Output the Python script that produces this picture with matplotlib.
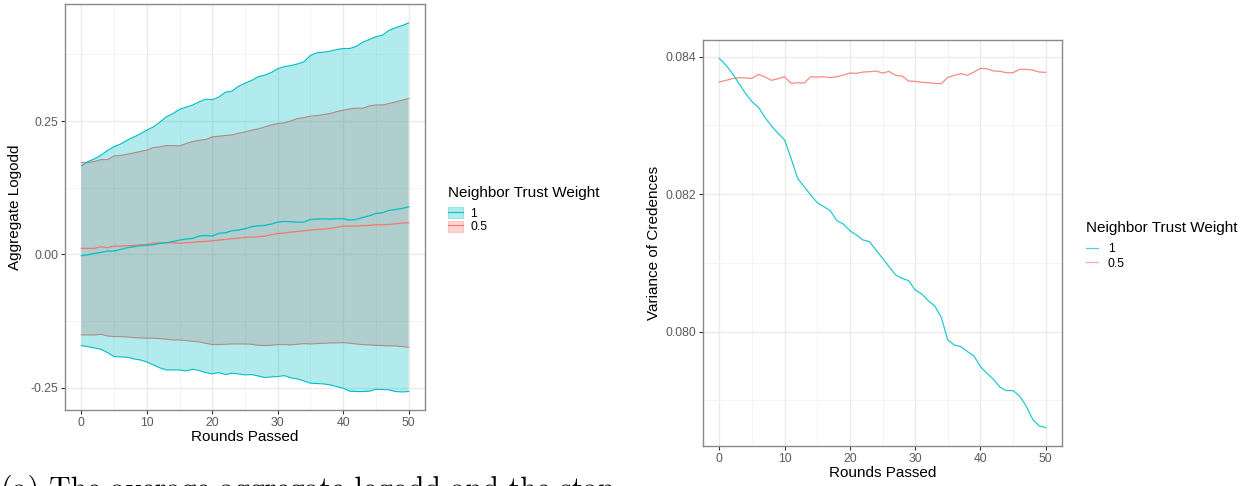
import matplotlib
matplotlib.use("Agg")
import matplotlib.pyplot as plt
from matplotlib.patches import Patch
from matplotlib.lines import Line2D
from matplotlib.legend_handler import HandlerTuple
import numpy as np

plt.rcParams['font.family'] = ['Liberation Sans', 'DejaVu Sans']
plt.rcParams['axes.unicode_minus'] = False

rounds = list(range(51))

# ---- Left panel: aggregate logodd (mean and mean +/- sd) ----
w1_mean = [-0.0025, -0.0007, 0.0018, 0.0037, 0.0062, 0.0062, 0.0093, 0.0124, 0.0143, 0.0162,
           0.0168, 0.0181, 0.0206, 0.0218, 0.0243, 0.0268, 0.0287, 0.0299, 0.0343, 0.0355,
           0.0343, 0.0393, 0.0405, 0.0443, 0.0455, 0.0480, 0.0518, 0.0536, 0.0543, 0.0568,
           0.0605, 0.0617, 0.0611, 0.0605, 0.0605, 0.0655, 0.0661, 0.0667, 0.0661, 0.0667,
           0.0667, 0.0642, 0.0655, 0.0692, 0.0724, 0.0767, 0.0780, 0.0823, 0.0842, 0.0861,
           0.0892]
w1_upper = [0.166, 0.174, 0.179, 0.186, 0.195, 0.202, 0.207, 0.214, 0.220, 0.226,
            0.233, 0.239, 0.248, 0.258, 0.264, 0.272, 0.276, 0.280, 0.286, 0.291,
            0.290, 0.295, 0.304, 0.306, 0.315, 0.321, 0.326, 0.333, 0.336, 0.341,
            0.348, 0.352, 0.354, 0.357, 0.361, 0.373, 0.378, 0.379, 0.381, 0.384,
            0.386, 0.386, 0.390, 0.398, 0.403, 0.408, 0.411, 0.420, 0.425, 0.429,
            0.434]
w1_lower = [-0.1711, -0.1730, -0.1755, -0.1780, -0.1842, -0.1917, -0.1923, -0.1929, -0.1961, -0.1979,
            -0.2017, -0.2073, -0.2129, -0.2167, -0.2167, -0.2167, -0.2185, -0.2154, -0.2179, -0.2216,
            -0.2241, -0.2216, -0.2254, -0.2229, -0.2241, -0.2260, -0.2254, -0.2279, -0.2310, -0.2298,
            -0.2291, -0.2273, -0.2316, -0.2335, -0.2373, -0.2416, -0.2422, -0.2429, -0.2447, -0.2479,
            -0.2510, -0.2566, -0.2572, -0.2572, -0.2566, -0.2529, -0.2535, -0.2541, -0.2572, -0.2579,
            -0.2572]

w05_mean = [0.0112, 0.0112, 0.0112, 0.0143, 0.0124, 0.0156, 0.0156, 0.0162, 0.0168, 0.0181,
            0.0187, 0.0212, 0.0212, 0.0218, 0.0218, 0.0206, 0.0218, 0.0224, 0.0237, 0.0243,
            0.0255, 0.0268, 0.0280, 0.0293, 0.0305, 0.0318, 0.0324, 0.0330, 0.0343, 0.0368,
            0.0393, 0.0399, 0.0418, 0.0430, 0.0443, 0.0455, 0.0468, 0.0474, 0.0486, 0.0505,
            0.0530, 0.0530, 0.0530, 0.0537, 0.0543, 0.0555, 0.0555, 0.0561, 0.0574, 0.0586,
            0.0593]
w05_upper = [0.1722, 0.1722, 0.1741, 0.1778, 0.1778, 0.1847, 0.1853, 0.1878, 0.1903, 0.1928,
             0.1953, 0.2003, 0.2015, 0.2040, 0.2040, 0.2034, 0.2078, 0.2115, 0.2140, 0.2153,
             0.2203, 0.2215, 0.2228, 0.2240, 0.2271, 0.2296, 0.2328, 0.2352, 0.2390, 0.2427,
             0.2452, 0.2465, 0.2502, 0.2546, 0.2565, 0.2590, 0.2602, 0.2621, 0.2640, 0.2677,
             0.2702, 0.2727, 0.2740, 0.2740, 0.2783, 0.2802, 0.2802, 0.2827, 0.2858, 0.2889,
             0.2921]
w05_lower = [-0.1511, -0.1511, -0.1511, -0.1499, -0.1530, -0.1542, -0.1542, -0.1549, -0.1561, -0.1567,
             -0.1573, -0.1573, -0.1580, -0.1592, -0.1605, -0.1605, -0.1617, -0.1630, -0.1642, -0.1667,
             -0.1692, -0.1692, -0.1686, -0.1680, -0.1680, -0.1680, -0.1686, -0.1705, -0.1711, -0.1705,
             -0.1692, -0.1692, -0.1698, -0.1686, -0.1673, -0.1680, -0.1673, -0.1667, -0.1661, -0.1661,
             -0.1655, -0.1667, -0.1680, -0.1692, -0.1698, -0.1705, -0.1711, -0.1717, -0.1717, -0.1730,
             -0.1742]

# ---- Right panel: variance of credences ----
var_w1 = [0.083976, 0.083879, 0.083758, 0.083612, 0.083467, 0.083346, 0.083263, 0.083118, 0.082992, 0.082885,
          0.082788, 0.082521, 0.082230, 0.082109, 0.081988, 0.081877, 0.081818, 0.081760, 0.081615, 0.081566,
          0.081469, 0.081406, 0.081334, 0.081309, 0.081188, 0.081067, 0.080946, 0.080825, 0.080776, 0.080742,
          0.080606, 0.080548, 0.080451, 0.080374, 0.080209, 0.079879, 0.079806, 0.079782, 0.079710, 0.079647,
          0.079491, 0.079394, 0.079307, 0.079191, 0.079142, 0.079142, 0.079064, 0.078919, 0.078725, 0.078628,
          0.078604]
var_w05 = [0.083632, 0.083656, 0.083680, 0.083695, 0.083690, 0.083685, 0.083743, 0.083704, 0.083656, 0.083680,
           0.083709, 0.083612, 0.083622, 0.083617, 0.083709, 0.083704, 0.083709, 0.083695, 0.083709, 0.083733,
           0.083762, 0.083758, 0.083777, 0.083782, 0.083792, 0.083762, 0.083787, 0.083729, 0.083719, 0.083646,
           0.083641, 0.083627, 0.083622, 0.083612, 0.083607, 0.083699, 0.083729, 0.083753, 0.083729, 0.083777,
           0.083830, 0.083825, 0.083792, 0.083787, 0.083767, 0.083767, 0.083816, 0.083816, 0.083806, 0.083777,
           0.083772]

group_labels = ["1", "0.5"]
legend_title = "Neighbor Trust Weight"
left_yticks = [-0.25, 0.0, 0.25]
left_yticklabels = ["-0.25", "0.00", "0.25"]
right_yticks = [0.080, 0.082, 0.084]
right_yticklabels = ["0.080", "0.082", "0.084"]
xticks = [0, 10, 20, 30, 40, 50]
caption = "(a) The average aggregate logodd and the stan"

CYAN = "#00BFC4"
RED = "#F8766D"
GRID = "#EBEBEB"
BORDER = "#8A8A8A"
TICKTXT = "#5A5A5A"

W, H = 1247, 486
fig = plt.figure(figsize=(W / 100, H / 100), dpi=100)


def style_axes(ax, xminor, yminor):
    ax.set_facecolor("white")
    for s in ax.spines.values():
        s.set_color(BORDER)
        s.set_linewidth(1.0)
    ax.set_xticks(xticks)
    ax.set_xticklabels([str(t) for t in xticks])
    ax.set_xticks(xminor, minor=True)
    ax.set_yticks(yminor, minor=True)
    ax.grid(True, which="major", color=GRID, linewidth=1.0, zorder=0)
    ax.grid(True, which="minor", color="#F2F2F2", linewidth=0.6, zorder=0)
    ax.set_axisbelow(True)
    ax.tick_params(which="major", length=3, width=0.8, color="#333333",
                   labelsize=8.8, labelcolor=TICKTXT, pad=2)
    ax.tick_params(which="minor", length=0)


# ---------------- Left panel ----------------
axL = fig.add_axes([65 / W, (H - 410) / H, 360 / W, 406 / H])
axL.fill_between(rounds, w05_lower, w05_upper, facecolor=RED, alpha=0.3,
                 edgecolor="none", zorder=2)
axL.plot(rounds, w05_upper, color=RED, lw=0.8, zorder=2)
axL.plot(rounds, w05_lower, color=RED, lw=0.8, zorder=2)
axL.fill_between(rounds, w1_lower, w1_upper, facecolor=CYAN, alpha=0.3,
                 edgecolor="none", zorder=3)
axL.plot(rounds, w1_upper, color=CYAN, lw=0.8, zorder=3)
axL.plot(rounds, w1_lower, color=CYAN, lw=0.8, zorder=3)
axL.plot(rounds, w05_mean, color=RED, lw=0.9, zorder=4)
axL.plot(rounds, w1_mean, color=CYAN, lw=0.9, zorder=5)
axL.set_xlim(-2.5, 52.5)
axL.set_ylim(-0.2918, 0.4694)
axL.set_yticks(left_yticks)
axL.set_yticklabels(left_yticklabels)
style_axes(axL, [5, 15, 25, 35, 45], [-0.125, 0.125, 0.375])
axL.set_xlabel("Rounds Passed", fontsize=11, labelpad=1)
axL.set_ylabel("Aggregate Logodd", fontsize=11, labelpad=6)

hL = [(Patch(facecolor=CYAN, alpha=0.3, edgecolor=CYAN, lw=0.8),
       Line2D([], [], color=CYAN, lw=0.8)),
      (Patch(facecolor=RED, alpha=0.3, edgecolor=RED, lw=0.8),
       Line2D([], [], color=RED, lw=0.8))]
legL = axL.legend(hL, group_labels, title=legend_title, loc="upper left",
                  bbox_to_anchor=(448 / W, 1 - 186 / H), bbox_transform=fig.transFigure,
                  frameon=False, fontsize=8.8, title_fontsize=11, alignment="left",
                  handlelength=1.2, handleheight=1.0, labelspacing=0.08,
                  handletextpad=0.65, borderpad=0, borderaxespad=0,
                  handler_map={tuple: HandlerTuple(ndivide=1, pad=0)})
legL._legend_box.sep = 5.0

# ---------------- Right panel ----------------
axR = fig.add_axes([703 / W, (H - 446) / H, 359 / W, 406 / H])
axR.plot(rounds, var_w05, color=RED, lw=0.9, alpha=0.85, zorder=3)
axR.plot(rounds, var_w1, color=CYAN, lw=0.9, alpha=0.85, zorder=4)
axR.set_xlim(-2.5, 52.5)
axR.set_ylim(0.078336, 0.084243)
axR.set_yticks(right_yticks)
axR.set_yticklabels(right_yticklabels)
style_axes(axR, [5, 15, 25, 35, 45], [0.079, 0.081, 0.083])
axR.set_xlabel("Rounds Passed", fontsize=11, labelpad=1)
axR.set_ylabel("Variance of Credences", fontsize=11, labelpad=3)

hR = [Line2D([], [], color=CYAN, lw=0.9, alpha=0.7),
      Line2D([], [], color=RED, lw=0.9, alpha=0.6)]
legR = axR.legend(hR, group_labels, title=legend_title, loc="upper left",
                  bbox_to_anchor=(1086 / W, 1 - 221 / H), bbox_transform=fig.transFigure,
                  frameon=False, fontsize=8.8, title_fontsize=11, alignment="left",
                  handlelength=1.0, labelspacing=0.2, handletextpad=0.8,
                  borderpad=0, borderaxespad=0)
legR._legend_box.sep = 6.0

# caption (cut off at the bottom of the image, as in the source)
fig.text(1 / W, 1 - 498 / H, caption, fontsize=21.5, family=["cmr10", "DejaVu Serif"],
         ha="left", va="baseline", color="black")

fig.savefig("out.png", dpi=100)
